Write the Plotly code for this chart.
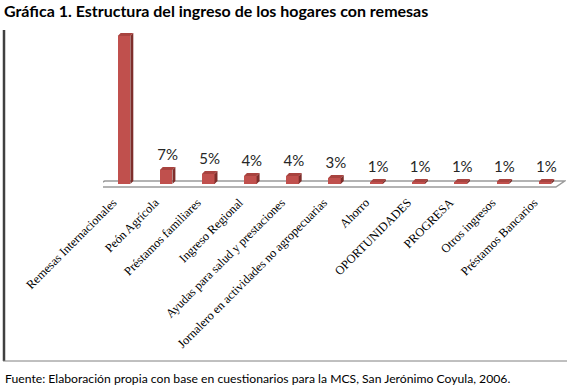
import plotly.graph_objects as go

categories = [
    "Remesas Internacionales", "Peón Agrícola", "Préstamos familiares",
    "Ingreso Regional", "Ayudas para salud y prestaciones",
    "Jornalero en actividades no agropecuarias", "Ahorro", "OPORTUNIDADES",
    "PROGRESA", "Otros ingresos", "Préstamos Bancarios",
]
values = [74, 7, 5, 4, 4, 3, 1, 1, 1, 1, 1]
value_labels = ["", "7%", "5%", "4%", "4%", "3%", "1%", "1%", "1%", "1%", "1%"]

title_text = "Gráfica 1. Estructura del ingreso de los hogares con remesas"
source_text = "Fuente: Elaboración propia con base en cuestionarios para la MCS, San Jerónimo Coyula, 2006."

W, H = 571, 390
L, R, T, B = 103, 5, 32, 198
PW, PH = W - L - R, H - T - B

def px_x(px):
    return (px - L) / PW

def px_y(py):
    return 1 - (py - T) / PH

FRONT = "#C0504D"
TOP = "#A8433F"
SIDE = "#7E2E2B"

w = 0.3    # front face width (category units)
dx = 0.07  # depth in x
dy = 1.5   # depth in y

xs = list(range(len(categories)))

top_x, top_y, side_x, side_y = [], [], [], []
for i, v in zip(xs, values):
    xl, xr = i - w / 2, i + w / 2
    top_x += [xl, xr, xr + dx, xl + dx, xl, None]
    top_y += [v, v, v + dy, v + dy, v, None]
    side_x += [xr, xr + dx, xr + dx, xr, xr, None]
    side_y += [0, dy, v + dy, v, 0, None]

fig = go.Figure()
fig.add_trace(go.Bar(x=xs, y=values, width=w, base=0,
                     marker=dict(color=FRONT, line=dict(width=0)),
                     hoverinfo="skip", showlegend=False))
fig.add_trace(go.Scatter(x=side_x, y=side_y, mode="lines", fill="toself",
                         fillcolor=SIDE, line=dict(width=0, color=SIDE),
                         hoverinfo="skip", showlegend=False))
fig.add_trace(go.Scatter(x=top_x, y=top_y, mode="lines", fill="toself",
                         fillcolor=TOP, line=dict(width=0, color=TOP),
                         hoverinfo="skip", showlegend=False))
fig.add_trace(go.Scatter(x=[i + dx / 2 for i in xs],
                         y=[v + dy + 1.5 for v in values],
                         mode="text", text=value_labels,
                         textposition="top center",
                         textfont=dict(family="Lato", size=15, color="#262626"),
                         hoverinfo="skip", showlegend=False,
                         cliponaxis=False))

# 3D floor
fig.add_shape(type="path", xref="x", yref="y", layer="below",
              path="M -0.75 -1.5 L 10.26 -1.5 L 10.47 1.5 L -0.46 1.5 Z",
              fillcolor="#FFFFFF", line=dict(color="#9A9A9A", width=1.5))

# chart border (left and bottom)
fig.add_shape(type="line", xref="paper", yref="paper",
              x0=px_x(4), x1=px_x(4), y0=px_y(30), y1=px_y(361),
              line=dict(color="#404040", width=2.5))
fig.add_shape(type="line", xref="paper", yref="paper",
              x0=px_x(3), x1=px_x(567), y0=px_y(361), y1=px_y(361),
              line=dict(color="#808080", width=1))

fig.add_annotation(text="<b>" + title_text + "</b>", xref="paper", yref="paper",
                   x=px_x(2), y=px_y(11), xanchor="left", yanchor="middle",
                   showarrow=False,
                   font=dict(family="Lato", size=16, color="#000000"))
fig.add_annotation(text=source_text, xref="paper", yref="paper",
                   x=px_x(3), y=px_y(378), xanchor="left", yanchor="middle",
                   showarrow=False,
                   font=dict(family="Lato", size=12.2, color="#000000"))

fig.update_layout(
    width=W, height=H,
    margin=dict(l=L, r=R, t=T, b=B),
    paper_bgcolor="white", plot_bgcolor="rgba(0,0,0,0)",
    bargap=0,
    xaxis=dict(range=[-0.5, 10.5], tickmode="array",
               tickvals=[i - 0.26 for i in xs],
               ticktext=categories, tickangle=-45, showgrid=False,
               zeroline=False, showline=False, ticks="",
               tickfont=dict(family="Liberation Serif", size=12.3, color="#000000")),
    yaxis=dict(range=[-4, 76], showgrid=False, zeroline=False,
               showticklabels=False, showline=False, ticks=""),
)

fig.write_html("out.html", config={"displayModeBar": False},
               post_script="document.body.style.margin='0';document.body.style.padding='0';")
